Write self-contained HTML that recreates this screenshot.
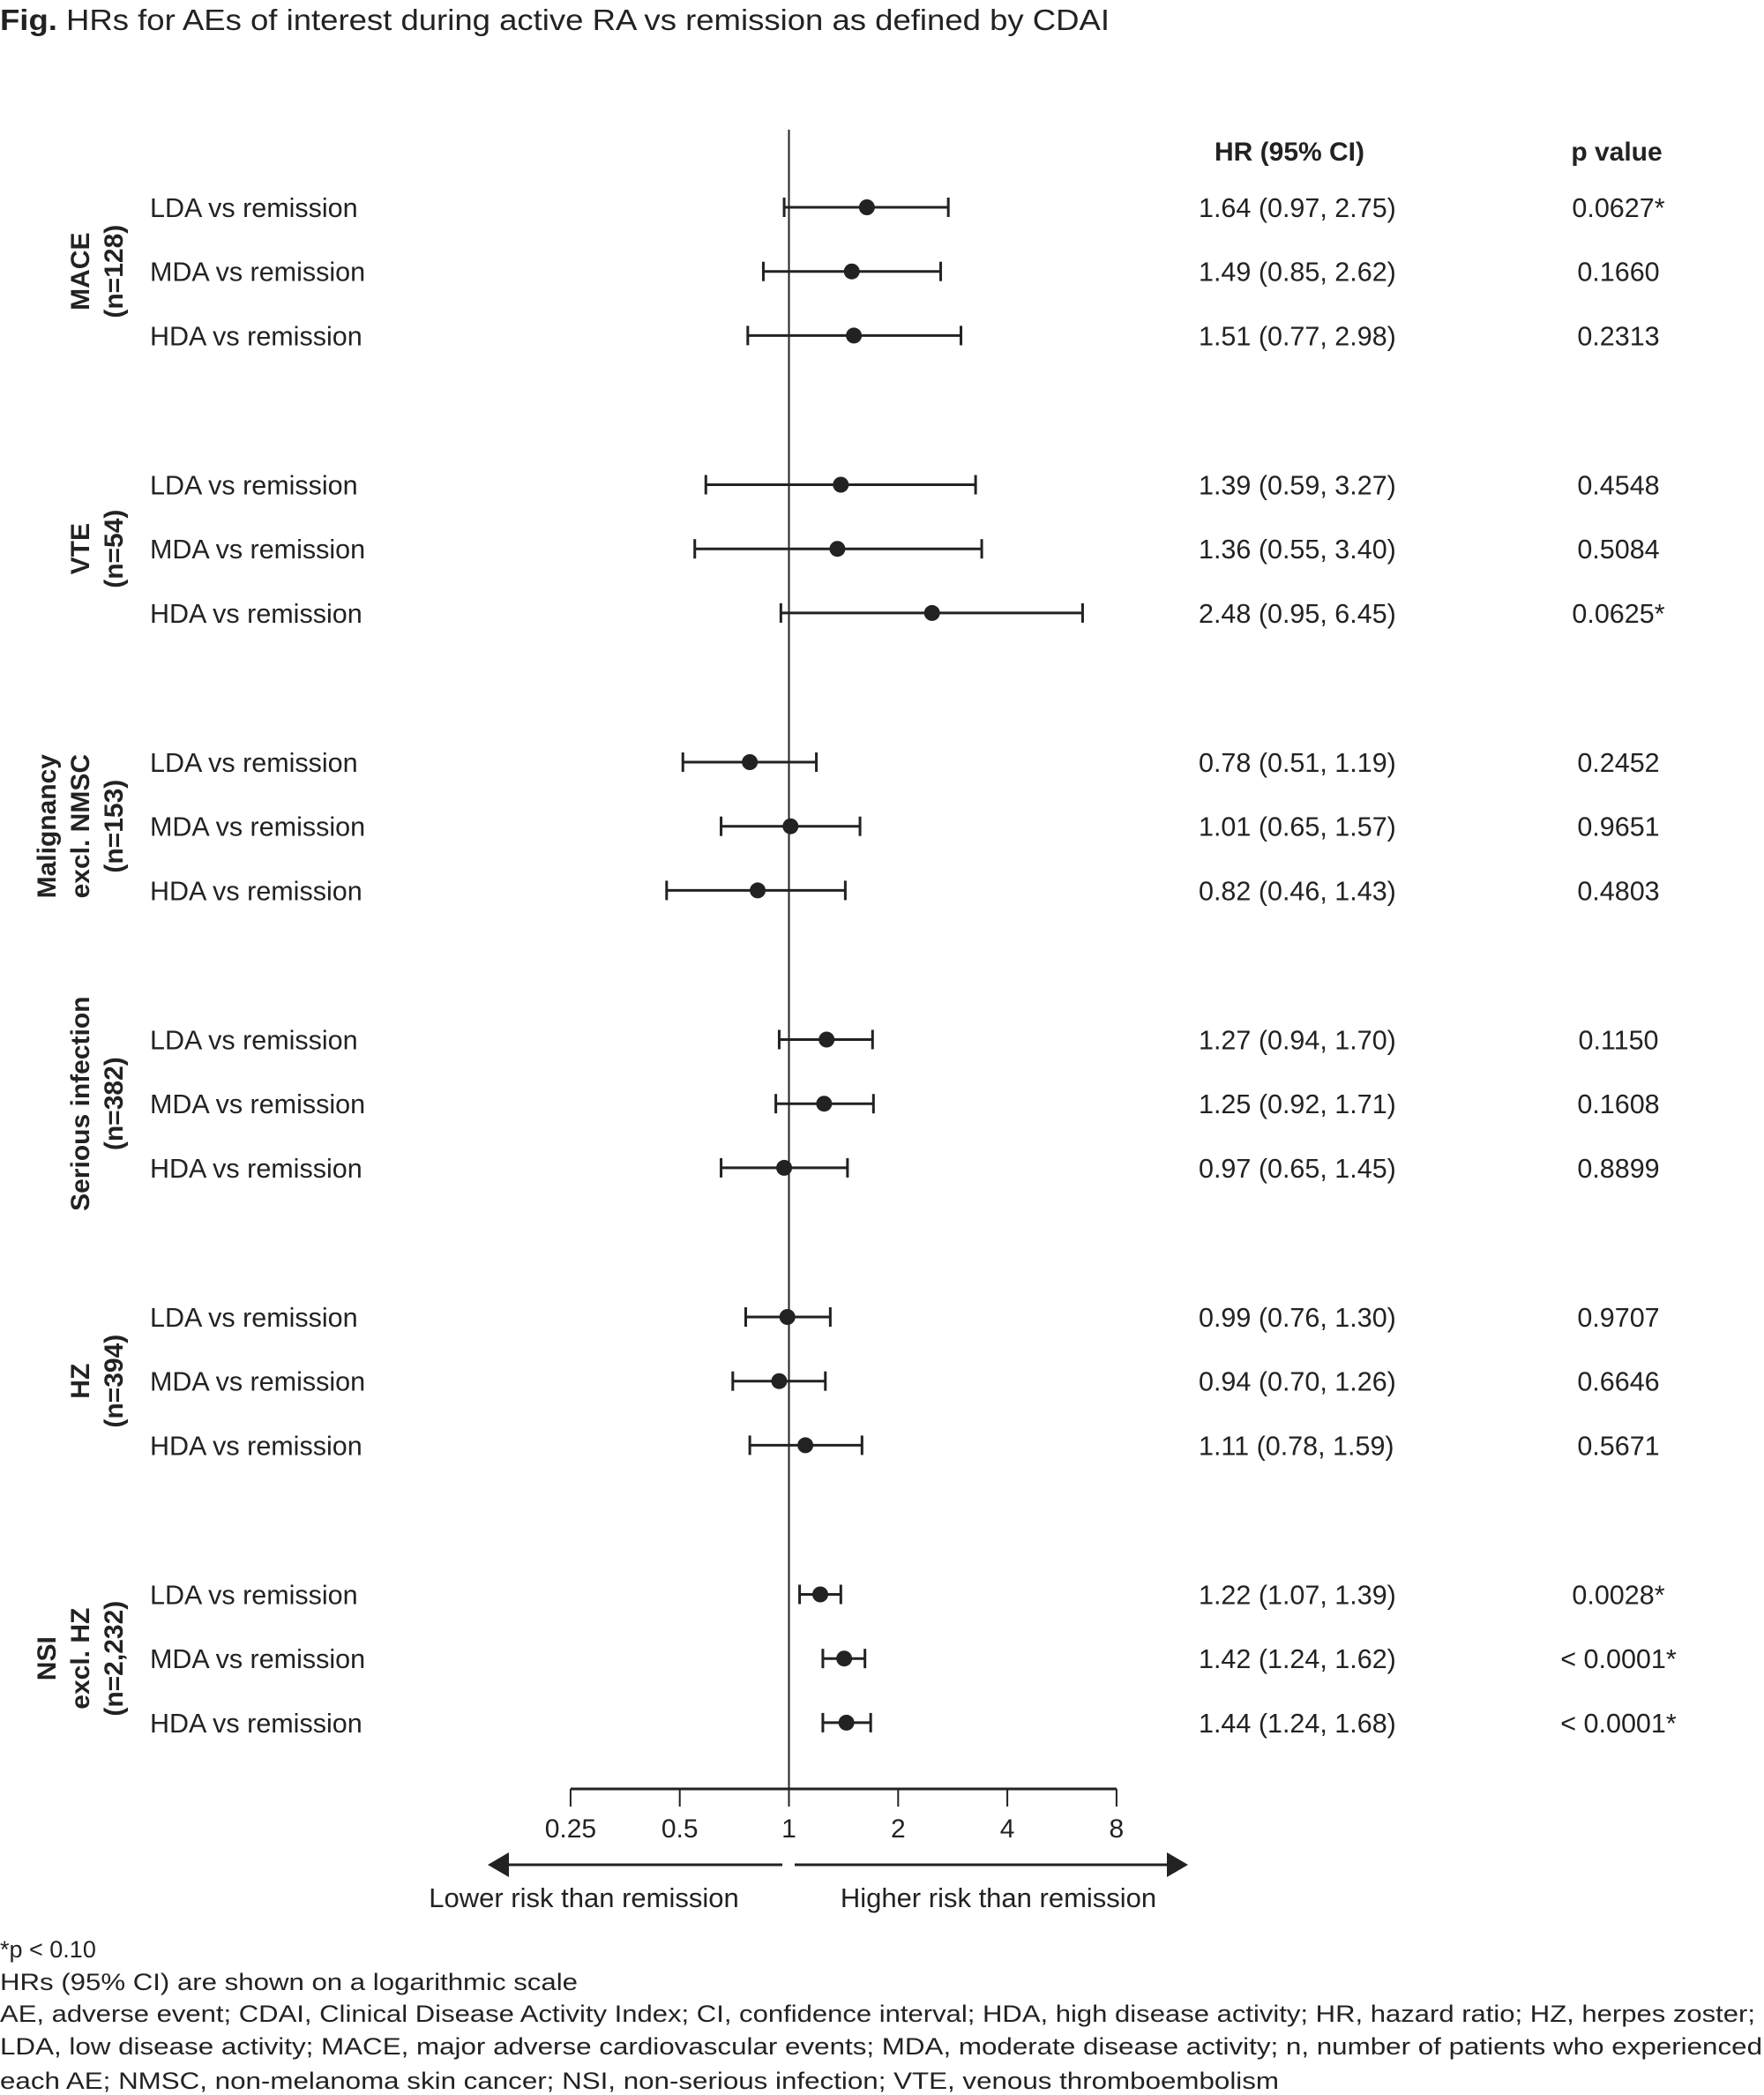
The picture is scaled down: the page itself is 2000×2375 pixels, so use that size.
<!DOCTYPE html>
<html><head><meta charset="utf-8">
<style>
html,body{margin:0;padding:0;background:#fff;}
svg{display:block;font-family:"Liberation Sans",Arial,sans-serif;}
</style></head>
<body>
<svg id="chart" width="2000" height="2375" viewBox="0 0 2000 2375" xmlns="http://www.w3.org/2000/svg">
<text x="0" y="34" font-size="33" fill="#222" textLength="1258" lengthAdjust="spacingAndGlyphs"><tspan font-weight="bold">Fig.</tspan>  HRs for AEs of interest during active RA vs remission as defined by CDAI</text>
<text x="1462" y="182" font-size="30" font-weight="bold" text-anchor="middle" fill="#222">HR (95% CI)</text>
<text x="1833" y="182" font-size="30" font-weight="bold" text-anchor="middle" fill="#222">p value</text>
<line x1="894.5" y1="147" x2="894.5" y2="2028" stroke="#222" stroke-width="2"/>
<g id="marks"></g>
<g id="axis"></g>
<g>
<line x1="575" y1="2114" x2="887" y2="2114" stroke="#222" stroke-width="3"/>
<polygon points="553,2114 577,2100 577,2128" fill="#222"/>
<line x1="901" y1="2114" x2="1325" y2="2114" stroke="#222" stroke-width="3"/>
<polygon points="1347,2114 1323,2100 1323,2128" fill="#222"/>
</g>
<text x="662" y="2162" font-size="31" text-anchor="middle" fill="#222">Lower risk than remission</text>
<text x="1132" y="2162" font-size="31" text-anchor="middle" fill="#222">Higher risk than remission</text>
<g font-size="27" fill="#222">
<text x="0" y="2219">*p &lt; 0.10</text>
<text x="0" y="2256" textLength="655" lengthAdjust="spacingAndGlyphs">HRs (95% CI) are shown on a logarithmic scale</text>
<text x="0" y="2292" textLength="1990" lengthAdjust="spacingAndGlyphs">AE, adverse event; CDAI, Clinical Disease Activity Index; CI, confidence interval; HDA, high disease activity; HR, hazard ratio; HZ, herpes zoster;</text>
<text x="0" y="2329" textLength="1998" lengthAdjust="spacingAndGlyphs">LDA, low disease activity; MACE, major adverse cardiovascular events; MDA, moderate disease activity; n, number of patients who experienced</text>
<text x="0" y="2368" textLength="1450" lengthAdjust="spacingAndGlyphs">each AE; NMSC, non-melanoma skin cancer; NSI, non-serious infection; VTE, venous thromboembolism</text>
</g>
</svg>
<script>
const groups = [["MACE","(n=128)"],["VTE","(n=54)"],["Malignancy","excl. NMSC","(n=153)"],["Serious infection","(n=382)"],["HZ","(n=394)"],["NSI","excl. HZ","(n=2,232)"]];
const comparisons = ["LDA vs remission","MDA vs remission","HDA vs remission"];
const hr = [1.64,1.49,1.51, 1.39,1.36,2.48, 0.78,1.01,0.82, 1.27,1.25,0.97, 0.99,0.94,1.11, 1.22,1.42,1.44];
const lower = [0.97,0.85,0.77, 0.59,0.55,0.95, 0.51,0.65,0.46, 0.94,0.92,0.65, 0.76,0.70,0.78, 1.07,1.24,1.24];
const upper = [2.75,2.62,2.98, 3.27,3.40,6.45, 1.19,1.57,1.43, 1.70,1.71,1.45, 1.30,1.26,1.59, 1.39,1.62,1.68];
const pvals = ["0.0627*","0.1660","0.2313","0.4548","0.5084","0.0625*","0.2452","0.9651","0.4803","0.1150","0.1608","0.8899","0.9707","0.6646","0.5671","0.0028*","< 0.0001*","< 0.0001*"];
const ticks = [0.25,0.5,1,2,4,8];
const tickLabels = ["0.25","0.5","1","2","4","8"];

const NS="http://www.w3.org/2000/svg";
const xScale = v => 894.5 + Math.log2(v)*123.8;
const rowY = i => 235 + Math.floor(i/3)*314.5 + (i%3)*72.7;
const marks = document.getElementById('marks');
const axis = document.getElementById('axis');
function mk(tag, attrs, parent){const e=document.createElementNS(NS,tag);for(const k in attrs)e.setAttribute(k,attrs[k]);parent.appendChild(e);return e;}
const fmt = v => v.toFixed(2);

groups.forEach((g,gi)=>{
  const cy = rowY(gi*3+1);
  const n = g.length;
  const gt = mk('text',{'font-size':30,'font-weight':'bold','text-anchor':'middle',fill:'#222',transform:`translate(0,${cy}) rotate(-90)`},document.getElementById('chart'));
  
  
  g.forEach((line,li)=>{
    const x = 129 - (n-1-li)*38 + 10;
    const ts = mk('tspan',{x:0,y:x},gt);
    ts.textContent = line;
  });
});

hr.forEach((v,i)=>{
  const y = rowY(i);
  const lbl = mk('text',{x:170,y:y+11,'font-size':30.5,fill:'#222'},marks);
  
  
  lbl.textContent = comparisons[i%3];
  const g = mk('g',{},marks);
  
  
  const x1=xScale(lower[i]), x2=xScale(upper[i]);
  mk('line',{x1:x1,y1:y,x2:x2,y2:y,stroke:'#222','stroke-width':3},g);
  mk('line',{x1:x1,y1:y-11,x2:x1,y2:y+11,stroke:'#222','stroke-width':3},g);
  mk('line',{x1:x2,y1:y-11,x2:x2,y2:y+11,stroke:'#222','stroke-width':3},g);
  mk('circle',{cx:xScale(v),cy:y,r:9,fill:'#222'},g);
  const t = mk('text',{x:1359,y:y+11,'font-size':30.5,fill:'#222'},marks);
  
  
  t.textContent = `${fmt(v)} (${fmt(lower[i])}, ${fmt(upper[i])})`;
  const p = mk('text',{x:1835,y:y+11,'font-size':30.5,'text-anchor':'middle',fill:'#222'},marks);
  
  
  p.textContent = pvals[i];
});

const al = mk('line',{x1:xScale(ticks[0]),y1:2028,x2:xScale(ticks[ticks.length-1]),y2:2028,stroke:'#222','stroke-width':3},axis);


ticks.forEach((t,i)=>{
  const x=xScale(t);
  const tk = mk('line',{x1:x,y1:2028,x2:x,y2:2048,stroke:'#222','stroke-width':2},axis);
  
  
  const tl = mk('text',{x:x,y:2083,'font-size':30,'text-anchor':'middle',fill:'#222'},axis);
  
  
  tl.textContent = tickLabels[i];
});
</script>
</body></html>
